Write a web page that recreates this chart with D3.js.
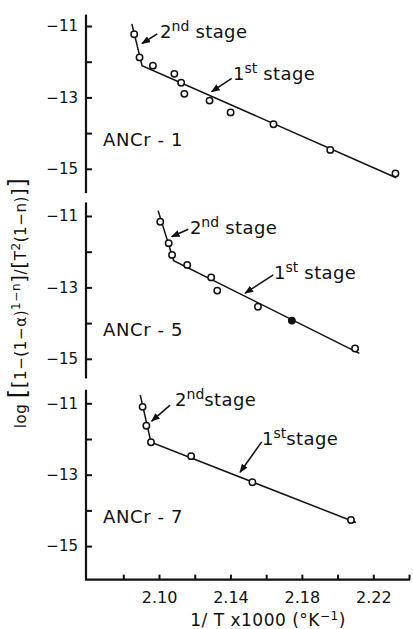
<!DOCTYPE html>
<html>
<head>
<meta charset="utf-8">
<script src="https://cdn.jsdelivr.net/npm/d3@7"></script>
<style>
  body { margin: 0; background: #fff; }
  svg text { font-family: "DejaVu Sans", sans-serif; fill: #111; }
</style>
</head>
<body>
<svg id="chart" width="413" height="629"></svg>
<script>
// tick values
const xTicks = [2.08, 2.10, 2.12, 2.14, 2.16, 2.18, 2.20, 2.22, 2.24];
const xLabels = [2.10, 2.14, 2.18, 2.22];
const yTicks = [-11, -12, -13, -14, -15];
const yLabels = [-11, -13, -15];

const samples = ['ANCr - 1', 'ANCr - 5', 'ANCr - 7'];

// ANCr-1 measured points and fitted two-stage line (start, kink, end)
const ancr1X = [2.0861, 2.0891, 2.0966, 2.1086, 2.1124, 2.1142, 2.1283, 2.1401, 2.1641, 2.1959, 2.2324];
const ancr1Y = [-11.23, -11.88, -12.11, -12.34, -12.59, -12.90, -13.09, -13.42, -13.75, -14.47, -15.13];
const ancr1FitX = [2.0848, 2.0905, 2.2328];
const ancr1FitY = [-10.94, -12.11, -15.25];

// ANCr-5
const ancr5X = [2.1007, 2.1054, 2.1073, 2.1158, 2.1292, 2.1326, 2.1554, 2.1744, 2.2098];
const ancr5Y = [-11.16, -11.76, -12.09, -12.37, -12.72, -13.09, -13.54, -13.93, -14.71];
const ancr5Filled = [false, false, false, false, false, false, false, true, false];
const ancr5FitX = [2.0995, 2.1082, 2.2122];
const ancr5FitY = [-10.85, -12.25, -14.85];

// ANCr-7
const ancr7X = [2.0908, 2.0929, 2.0955, 2.1180, 2.1523, 2.2075];
const ancr7Y = [-11.10, -11.63, -12.09, -12.48, -13.21, -14.27];
const ancr7FitX = [2.0895, 2.0955, 2.2103];
const ancr7FitY = [-10.77, -12.09, -14.34];

// stage callouts: arrow tail, arrow head, label anchor (data units)
const stage2 = [
  { tail: [2.0990, -11.22], head: [2.0905, -11.49], at: [2.1006, -11.34], sup: 'nd', gap: ' ' },
  { tail: [2.1164, -11.37], head: [2.1071, -11.58], at: [2.1173, -11.50], sup: 'nd', gap: ' ' },
  { tail: [2.1062, -11.05], head: [2.0959, -11.50], at: [2.1090, -11.07], sup: 'nd', gap: '' }
];
const stage1 = [
  { tail: [2.1407, -12.47], head: [2.1295, -12.84], at: [2.1414, -12.51], sup: 'st', gap: ' ' },
  { tail: [2.1640, -12.65], head: [2.1482, -13.16], at: [2.1644, -12.76], sup: 'st', gap: ' ' },
  { tail: [2.1575, -12.08], head: [2.1454, -12.93], at: [2.1577, -12.17], sup: 'st', gap: '' }
];

const panels = [
  { name: samples[0], xs: ancr1X, ys: ancr1Y, filled: ancr1X.map(() => false), fx: ancr1FitX, fy: ancr1FitY },
  { name: samples[1], xs: ancr5X, ys: ancr5Y, filled: ancr5Filled, fx: ancr5FitX, fy: ancr5FitY },
  { name: samples[2], xs: ancr7X, ys: ancr7Y, filled: ancr7X.map(() => false), fx: ancr7FitX, fy: ancr7FitY }
];

const svg = d3.select('#chart');

const x = d3.scaleLinear().domain([2.08, 2.22]).range([123.3, 373.3]);

const unit = 35.7;
const panelTop = [26, 216, 403.3];      // pixel of -11 in each panel
const axisSpan = [[-10.68, -15.68], [-10.62, -15.55], [-10.62, -15.94]];

svg.append('defs').append('marker')
  .attr('id', 'arrow')
  .attr('markerUnits', 'userSpaceOnUse')
  .attr('markerWidth', 9).attr('markerHeight', 7)
  .attr('refX', 8).attr('refY', 3.5)
  .attr('orient', 'auto')
  .append('path')
  .attr('d', 'M0,0 L9,3.5 L0,7 Z')
  .attr('fill', '#111');

const line = d3.line();

panels.forEach((p, i) => {
  const y = d3.scaleLinear().domain([-11, -15]).range([panelTop[i], panelTop[i] + 4 * unit]);
  const g = svg.append('g');

  // y axis
  const yAxis = d3.axisLeft(y)
    .tickValues(yTicks)
    .tickSizeInner(-6)
    .tickSizeOuter(0)
    .tickPadding(8)
    .tickFormat(d => (yLabels.includes(d) ? d3.format('d')(d) : ''));
  const ya = g.append('g').attr('transform', 'translate(86,0)').call(yAxis);
  ya.select('.domain').remove();
  ya.selectAll('.tick line').attr('stroke', '#111').attr('stroke-width', 2);
  ya.selectAll('.tick text').style('font-size', '15px').attr('fill', '#111');
  g.append('line')
    .attr('x1', 86).attr('x2', 86)
    .attr('y1', y(axisSpan[i][0])).attr('y2', y(axisSpan[i][1]))
    .attr('stroke', '#111').attr('stroke-width', 2.2);

  // fitted line
  g.append('path')
    .attr('d', line(p.fx.map((v, k) => [x(v), y(p.fy[k])])))
    .attr('fill', 'none')
    .attr('stroke', '#111')
    .attr('stroke-width', 1.5);

  // points
  g.selectAll('circle.pt')
    .data(p.xs.map((v, k) => ({ x: v, y: p.ys[k], f: p.filled[k] })))
    .join('circle')
    .attr('class', 'pt')
    .attr('cx', d => x(d.x))
    .attr('cy', d => y(d.y))
    .attr('r', 3.2)
    .attr('fill', d => (d.f ? '#111' : '#fff'))
    .attr('stroke', '#111')
    .attr('stroke-width', 1.5);

  // sample name
  g.append('text')
    .attr('x', x(2.0687))
    .attr('y', y(-14.35))
    .style('font-size', '18px')
    .style('letter-spacing', '0.6px')
    .text(p.name);

  // stage callouts
  [stage2[i], stage1[i]].forEach((s, k) => {
    g.append('line')
      .attr('x1', x(s.tail[0])).attr('y1', y(s.tail[1]))
      .attr('x2', x(s.head[0])).attr('y2', y(s.head[1]))
      .attr('stroke', '#111').attr('stroke-width', 1.5)
      .attr('marker-end', 'url(#arrow)');
    const t = g.append('text')
      .attr('x', x(s.at[0]))
      .attr('y', y(s.at[1]))
      .style('font-size', '18px');
    t.append('tspan').text(k === 0 ? '2' : '1');
    t.append('tspan').attr('dy', -7).style('font-size', '14px').text(s.sup);
    t.append('tspan').attr('dy', 7).style('letter-spacing', '0.4px').text(s.gap + 'stage');
  });

  if (i === panels.length - 1) {
    const xAxis = d3.axisBottom(x)
      .tickValues(xTicks)
      .tickSizeInner(-5)
      .tickSizeOuter(0)
      .tickPadding(12)
      .tickFormat(d => (xLabels.some(v => Math.abs(v - d) < 1e-6) ? d3.format('.2f')(d) : ''));
    const xy = y(axisSpan[i][1]);
    const xa = g.append('g').attr('transform', `translate(0,${xy})`).call(xAxis);
    xa.select('.domain').remove();
    xa.selectAll('.tick line').attr('stroke', '#111').attr('stroke-width', 2);
    xa.selectAll('.tick text').style('font-size', '16px').attr('fill', '#111');
    g.append('line')
      .attr('x1', 85).attr('x2', x(2.24) + 1)
      .attr('y1', xy).attr('y2', xy)
      .attr('stroke', '#111').attr('stroke-width', 2.2);
  }
});

// x axis title
const xt = svg.append('text')
  .attr('x', 268).attr('y', 626)
  .attr('text-anchor', 'middle')
  .style('font-size', '17px')
  .style('letter-spacing', '0.5px');
xt.append('tspan').text('1/ T x1000 (°K');
xt.append('tspan').attr('dy', -6).style('font-size', '12px').text('−1');
xt.append('tspan').attr('dy', 6).text(')');

// y axis title
const yt = svg.append('text')
  .attr('transform', 'translate(26,303) rotate(-90)')
  .attr('text-anchor', 'middle')
  .style('font-size', '15px')
  .style('letter-spacing', '0.6px');
yt.append('tspan').text('log ');
yt.append('tspan').style('font-size', '24px').text('[');
yt.append('tspan').style('font-size', '20px').text('[');
yt.append('tspan').text('1−(1−α)');
yt.append('tspan').attr('dy', -6).style('font-size', '12px').text('1−n');
yt.append('tspan').attr('dy', 6).style('font-size', '20px').text(']');
yt.append('tspan').text('/');
yt.append('tspan').style('font-size', '20px').text('[');
yt.append('tspan').text('T');
yt.append('tspan').attr('dy', -6).style('font-size', '12px').text('2');
yt.append('tspan').attr('dy', 6).text('(1−n)');
yt.append('tspan').style('font-size', '20px').text(']');
yt.append('tspan').style('font-size', '24px').text(']');
</script>
</body>
</html>
